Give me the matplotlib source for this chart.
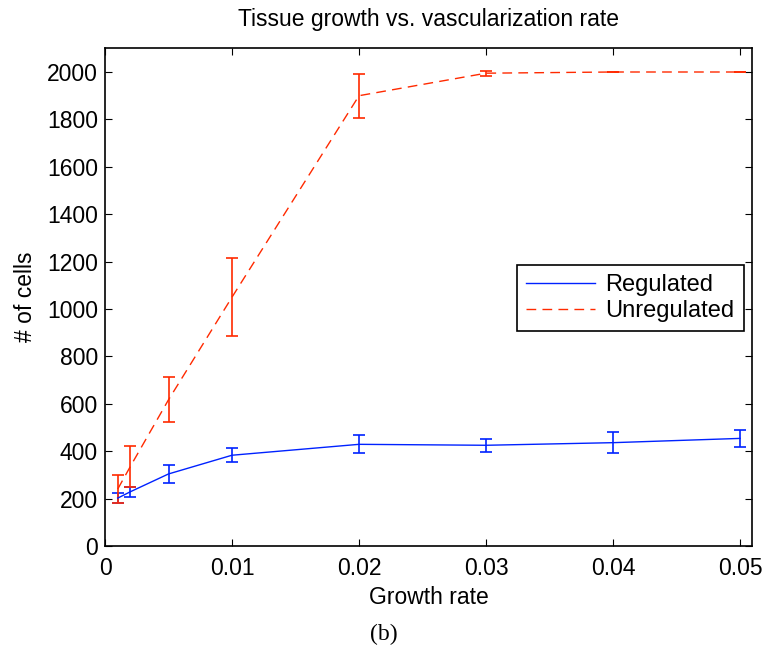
import matplotlib
matplotlib.use("Agg")
import matplotlib.pyplot as plt
from matplotlib.lines import Line2D

growth_rate = [0.001, 0.002, 0.005, 0.01, 0.02, 0.03, 0.04, 0.05]
regulated = [202, 229, 304, 383, 429, 425, 436, 454]
regulated_err = [21, 21, 38, 30, 38, 27, 45, 37]
unregulated = [240, 336, 617, 1050, 1900, 1995, 2000, 2000]
unregulated_err = [60, 86, 95, 165, 92, 10, 1, 1]

plt.rcParams['font.family'] = ['Liberation Sans', 'DejaVu Sans']
FS = 16.5

fig = plt.figure(figsize=(7.66, 6.47), dpi=100)
ax = fig.add_axes([105/766, 1-546/647, (752-105)/766, (546-48.3)/647])

blue = '#0022ff'
red = '#ff2a00'
ax.errorbar(growth_rate, regulated, yerr=regulated_err, color=blue, lw=1.0,
            elinewidth=1.2, capsize=4.3, capthick=1.2)
ax.errorbar(growth_rate, unregulated, yerr=unregulated_err, color=red, lw=1.0,
            elinewidth=1.2, capsize=4.3, capthick=1.2, dashes=(7, 4.5))

ax.set_xlim(0, 0.05094)
ax.set_ylim(0, 2100)
ax.set_xticks([0, 0.01, 0.02, 0.03, 0.04, 0.05])
ax.set_xticklabels(['0', '0.01', '0.02', '0.03', '0.04', '0.05'])
ax.set_yticks(range(0, 2001, 200))
ax.tick_params(direction='in', top=True, right=True, labelsize=FS, length=5, width=0.8)
ax.tick_params(axis='x', pad=8)
ax.tick_params(axis='y', pad=5)
for s in ax.spines.values():
    s.set_linewidth(1.2)

ax.set_xlabel('Growth rate', fontsize=FS, labelpad=4)
ax.set_ylabel('# of cells', fontsize=FS, labelpad=7)
ax.set_title('Tissue growth vs. vascularization rate', fontsize=FS, pad=16)

handles = [Line2D([], [], color=blue, lw=1.0),
           Line2D([], [], color=red, lw=1.0, dashes=(7, 4.5))]
leg = ax.legend(handles, ['Regulated', 'Unregulated'], loc='upper left',
                bbox_to_anchor=((517-105)/647, (546-265)/497.7),
                fontsize=17, frameon=True, fancybox=False, edgecolor='black',
                framealpha=1, handlelength=2.9, borderpad=0.4, labelspacing=0.15,
                handletextpad=0.45, borderaxespad=0)
leg.get_frame().set_linewidth(1.2)

fig.text(384/766, 1-634/647, '(b)', fontsize=17, ha='center', va='center',
         family=['Liberation Serif', 'DejaVu Serif'])

fig.savefig('out.png', dpi=100)
